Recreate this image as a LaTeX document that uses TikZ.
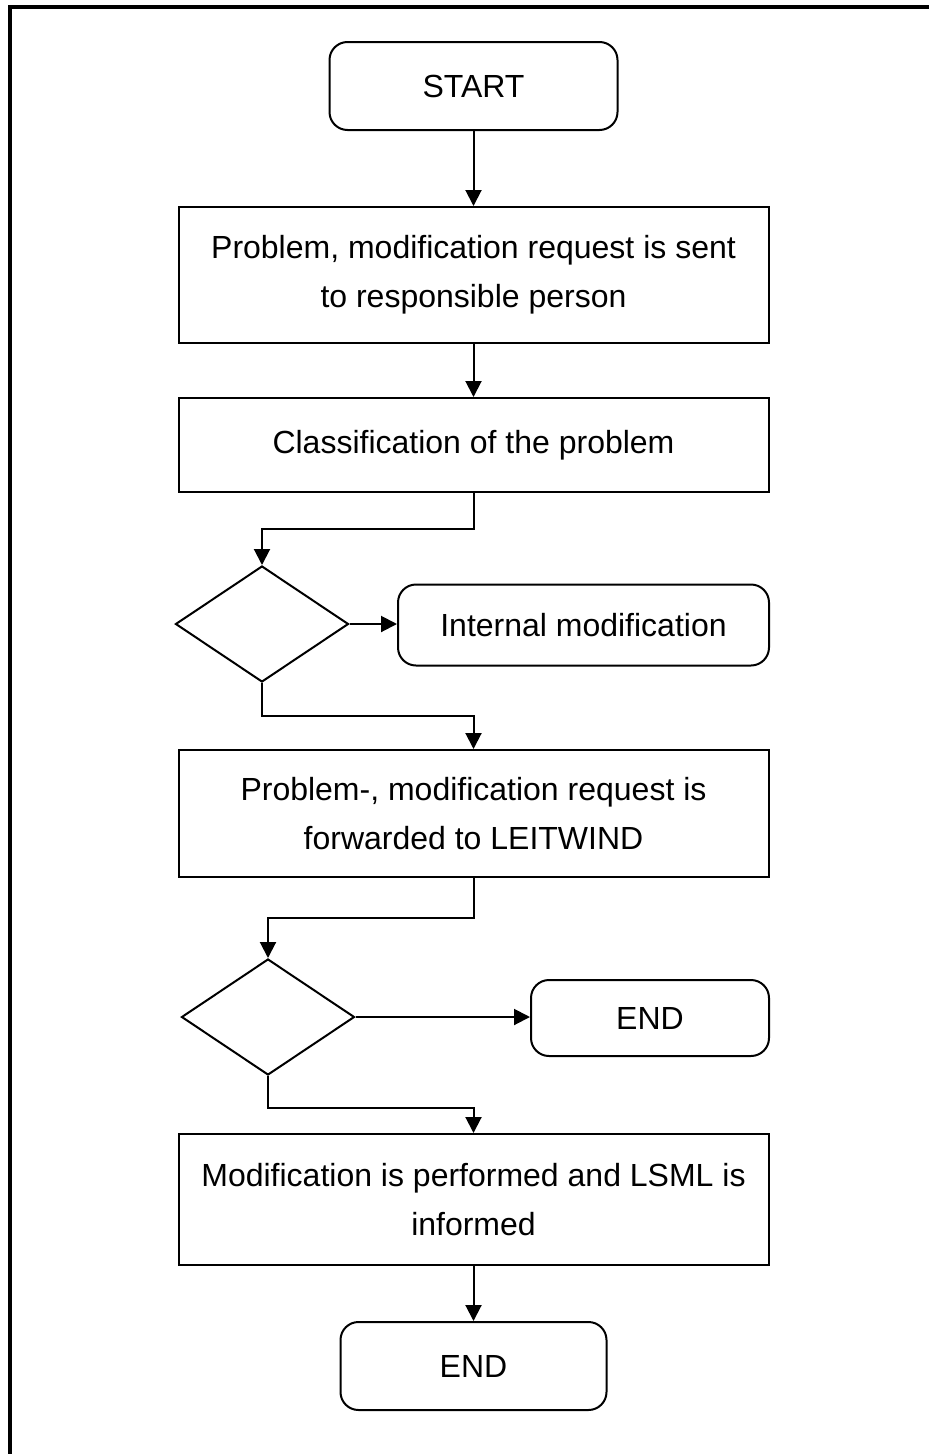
\documentclass[tikz,border=0pt]{standalone}
\usepackage{fontspec}
\setmainfont{Liberation Sans}
\usetikzlibrary{arrows.meta,shapes.geometric}
\begin{document}
\begin{tikzpicture}[x=1pt,y=-1pt,
  every node/.style={font=\fontsize{32}{49}\selectfont, align=center, inner sep=0pt},
  procbox/.style={draw, line width=2pt, minimum width=590pt},
  termbox/.style={draw, line width=2pt, rounded corners=18pt},
  decbox/.style={draw, line width=2pt, diamond, minimum width=173pt, minimum height=116pt, aspect=1.5},
  conn/.style={line width=2pt, -{Triangle[length=16pt,width=16pt]}}
]
\useasboundingbox (0,0) rectangle (929,1454);
\draw[line width=4pt] (9.5,1500) -- (9.5,6.5) -- (1000,6.5);

\node[termbox, minimum width=288pt, minimum height=88pt] (start) at (473.5,86) {START};
\node[procbox, minimum height=136pt] (b1) at (473.5,275) {Problem, modification request is sent\\to responsible person};
\node[procbox, minimum height=94pt] (b2) at (473.5,445) {Classification of the problem};
\node[decbox] (d1) at (262,624) {};
\node[termbox, minimum width=371pt, minimum height=81pt] (im) at (583.5,625) {Internal modification};
\node[procbox, minimum height=127pt] (b3) at (473.5,813.5) {Problem-, modification request is\\forwarded to LEITWIND};
\node[decbox] (d2) at (268,1017) {};
\node[termbox, minimum width=238pt, minimum height=76pt] (e1) at (650,1018) {END};
\node[procbox, minimum height=131pt] (b4) at (473.5,1199.5) {Modification is performed and LSML is\\informed};
\node[termbox, minimum width=266pt, minimum height=88pt] (e2) at (473.5,1366) {END};

\coordinate (j1) at (473.5,529);
\coordinate (j2) at (262,716);
\coordinate (j3) at (473.5,918);
\coordinate (j4) at (268,1108);

\draw[conn] (start.south) -- (b1.north);
\draw[conn] (b1.south) -- (b2.north);
\draw[conn] (b2.south) -- (j1) -| (d1.north);
\draw[conn] (d1.east) -- (d1.east -| im.west);
\draw[conn] (d1.south) |- (j2 -| b3.north) -- (b3.north);
\draw[conn] (b3.south) -- (j3) -| (d2.north);
\draw[conn] (d2.east) -- (d2.east -| e1.west);
\draw[conn] (d2.south) |- (j4 -| b4.north) -- (b4.north);
\draw[conn] (b4.south) -- (e2.north);
\end{tikzpicture}
\end{document}
